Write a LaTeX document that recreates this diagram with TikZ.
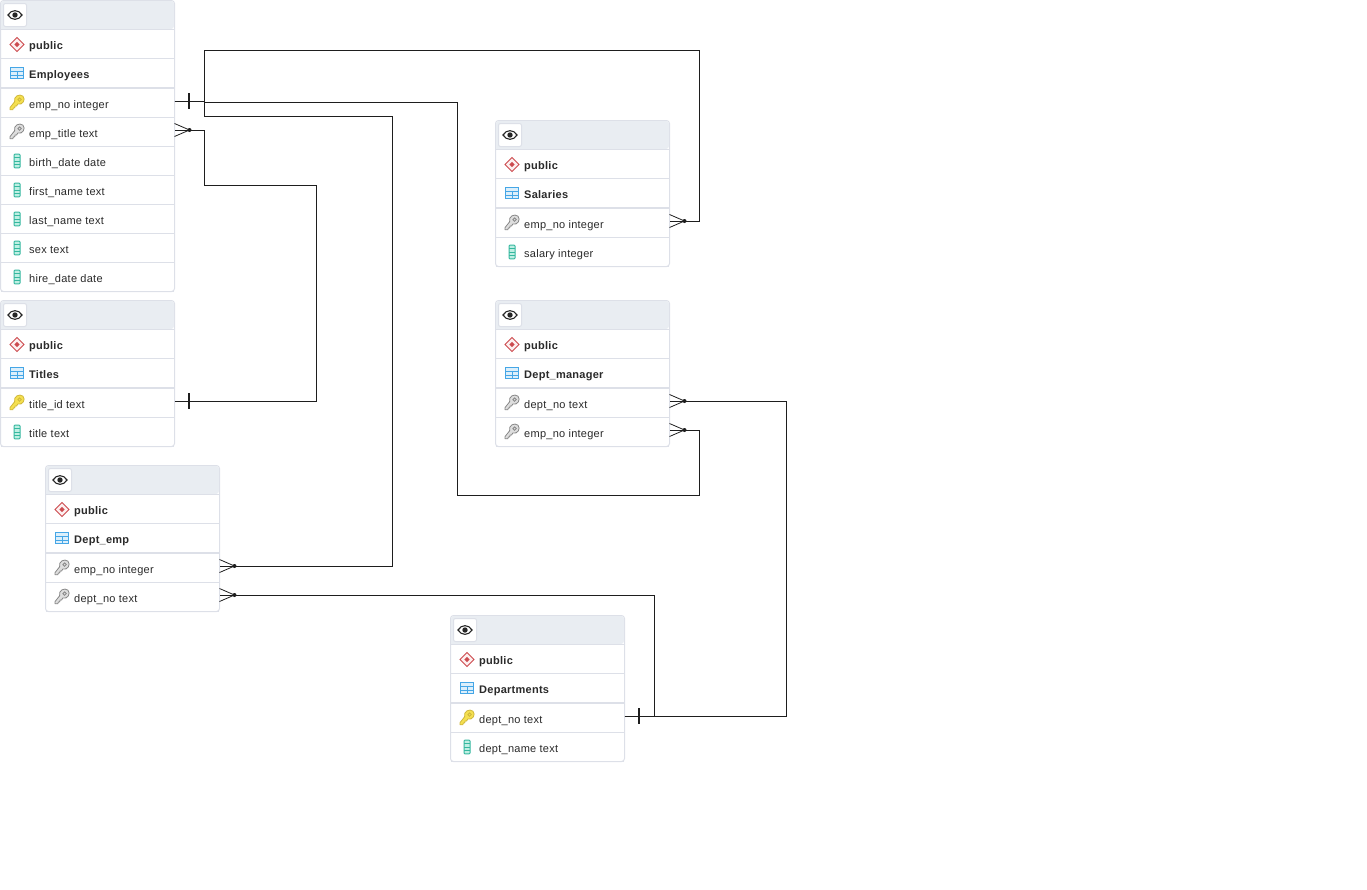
\documentclass[tikz,border=0pt]{standalone}
\usepackage{fontspec}
\setmainfont[LetterSpace=2.4]{Liberation Sans}
\definecolor{framegray}{HTML}{DDE0E8}
\definecolor{headfill}{HTML}{E9EDF2}
\definecolor{inkgray}{HTML}{2A2A2A}
\definecolor{relgray}{HTML}{1E1E1E}
\definecolor{keygold}{HTML}{F5E050}
\definecolor{keygoldline}{HTML}{D0B83C}
\definecolor{keygray}{HTML}{DEDEDE}
\definecolor{keygrayline}{HTML}{888888}
\definecolor{colfill}{HTML}{BFEFE3}
\definecolor{colline}{HTML}{35B89F}
\definecolor{schemafill}{HTML}{FDF0F0}
\definecolor{schemaline}{HTML}{CC4A4E}
\definecolor{tablefill}{HTML}{DCEFFB}
\definecolor{tableline}{HTML}{45A6E6}
\tikzset{
  framebox/.style={draw=framegray, line width=1pt, rounded corners=3pt, inner sep=0pt, outer sep=0pt, minimum width=174pt},
  rowbox/.style={inner sep=0pt, outer sep=0pt, minimum width=174pt, minimum height=29pt, anchor=north west},
  rowtext/.style={inner sep=0pt, anchor=base west, text=inkgray, font=\fontsize{11}{13}\selectfont},
  nametext/.style={rowtext, font=\fontsize{11}{13}\selectfont\bfseries},
  relline/.style={draw=relgray, line width=0.9pt, line join=miter},
  relend/.style={draw=relgray, line width=0.8pt},
  relbar/.style={draw=relgray, line width=1.6pt}
}
% Icons, drawn around the origin of a shifted scope
\newcommand{\keyshape}[2]{%
  \draw[fill=#1, draw=#2, line width=0.8pt, line join=round] (-7,4.6) -- (-2.4,-1.2) .. controls (-3.8,-6.6) and (2.4,-9.8) .. (6,-6.8)
    .. controls (9,-3.4) and (5.6,2.4) .. (0.8,1) -- (-0.4,3) -- (-2,3) -- (-2.2,4.8) -- (-3.6,5) -- (-4.2,6.8) -- (-7,6.8) -- cycle;
  \draw[draw=#2, line width=0.8pt] (2.6,-3.4) circle (1.7);}
\newcommand{\pkicon}{\keyshape{keygold}{keygoldline}}
\newcommand{\fkicon}{\keyshape{keygray}{keygrayline}}
\newcommand{\colicon}{%
  \draw[fill=colfill, draw=colline, line width=1pt, rounded corners=0.8pt] (-3,-6.8) rectangle (3,6.8);
  \foreach \liney in {-3.4,0,3.4} \draw[colline, line width=0.7pt] (-3,\liney) -- (3,\liney);}
\newcommand{\schemaicon}{%
  \draw[fill=schemafill, draw=schemaline, line width=1pt] (-7,0) -- (0,-7) -- (7,0) -- (0,7) -- cycle;
  \fill[schemaline] (-2.6,0) -- (0,-2.6) -- (2.6,0) -- (0,2.6) -- cycle;}
\newcommand{\tableicon}{%
  \draw[fill=tablefill, draw=tableline, line width=1pt] (-6.5,-5.5) rectangle (6.5,5.5);
  \draw[tableline, line width=0.8pt] (-6.5,-1.8) -- (6.5,-1.8) (-6.5,1.9) -- (6.5,1.9) (0,-1.8) -- (0,5.5);}
\newcommand{\eyeicon}{%
  \draw[fill=white, draw=black!85, line width=1.1pt] (-7,0) .. controls (-3.4,-5.8) and (3.4,-5.8) .. (7,0) .. controls (3.4,5.8) and (-3.4,5.8) .. cycle;
  \fill[black!85] (0,0) circle (2.7);}
% Table: name, x, y, number of rows, rows as node/icon/text
\newcommand{\erdtable}[5]{%
  % Frame and header band
  \node[framebox, minimum height=88pt+29pt*#4, anchor=north west, fill=white] (#1) at (#2+0.5,#3+0.5) {};
  \fill[headfill, rounded corners=3pt] (#2+1,#3+29) -- (#2+1,#3+1) -- (#2+174,#3+1) -- (#2+174,#3+29) [sharp corners] -- cycle;
  % Eye button
  \node[draw=framegray, fill=white, line width=1pt, rounded corners=2pt, inner sep=0pt, outer sep=0pt, minimum size=23pt] (#1-eye) at (#2+15,#3+15) {};
  \begin{scope}[shift={(#1-eye.center)}]\eyeicon\end{scope}
  % Schema and table name rows
  \draw[framegray, line width=1pt] (#2+1,#3+29.5) -- (#2+174,#3+29.5);
  \draw[framegray, line width=1pt] (#2+1,#3+58.5) -- (#2+174,#3+58.5);
  \draw[framegray, line width=2pt] (#2+1,#3+88) -- (#2+174,#3+88);
  \begin{scope}[shift={(#2+17,#3+44.5)}]\schemaicon\end{scope}
  \begin{scope}[shift={(#2+17,#3+73)}]\tableicon\end{scope}
  \node[nametext] (#1-schema) at (#2+29,#3+49) {public};
  \node[nametext] (#1-name) at (#2+29,#3+78) {\detokenize{#1}};
  % Column rows
  \foreach \rowname/\rowicon/\rowtext [count=\rowi from 0] in {#5} {
    \node[rowbox] (\rowname) at (#2+0.5,#3+88+29*\rowi) {};
    \begin{scope}[shift={(#2+17,#3+103+29*\rowi)}]\rowicon\end{scope}
    \node[rowtext] (\rowname-text) at (#2+29,#3+108+29*\rowi) {\rowtext};
    \draw[framegray, line width=1pt] (#2+1,#3+117.5+29*\rowi) -- (#2+174,#3+117.5+29*\rowi);
  }
}
% Many end and one end of a relation, at the side of a row
\newcommand{\manyend}[1]{%
  \begin{scope}[shift={([yshift=1.5pt]#1.east)}]
    \draw[relend] (0,-6.5) -- (15,0) -- (0,6.5);
    \fill[relgray] (15,0) circle (2);
  \end{scope}}
\newcommand{\oneend}[1]{%
  \begin{scope}[shift={([yshift=1.5pt]#1.east)}]
    \draw[relbar] (14.5,-8) -- (14.5,8);
  \end{scope}}
\begin{document}
\begin{tikzpicture}[x=1pt,y=-1pt]
\useasboundingbox (0,0) rectangle (1367,889);
% Tables
\erdtable{Employees}{0}{0}{7}{empNo/\pkicon/emp\_no integer, empTitle/\fkicon/emp\_title text, birthDate/\colicon/birth\_date date, firstName/\colicon/first\_name text, lastName/\colicon/last\_name text, sexCol/\colicon/sex text, hireDate/\colicon/hire\_date date}
\erdtable{Titles}{0}{300}{2}{titleId/\pkicon/title\_id text, titleCol/\colicon/title text}
\erdtable{Dept_emp}{45}{465}{2}{deptEmpEmp/\fkicon/emp\_no integer, deptEmpDept/\fkicon/dept\_no text}
\erdtable{Salaries}{495}{120}{2}{salaryEmp/\fkicon/emp\_no integer, salaryCol/\colicon/salary integer}
\erdtable{Dept_manager}{495}{300}{2}{managerDept/\fkicon/dept\_no text, managerEmp/\fkicon/emp\_no integer}
\erdtable{Departments}{450}{615}{2}{deptNo/\pkicon/dept\_no text, deptName/\colicon/dept\_name text}
% Employees to Salaries
\draw[relline] ([yshift=1.5pt]empNo.east) -- (204,101) -- (204,50.5) -- (699,50.5) -- (699,221) -- ([yshift=1.5pt]salaryEmp.east);
% Employees to Dept_emp
\draw[relline] ([yshift=1.5pt]empNo.east) -- (204,101) -- (204,116.5) -- (392,116.5) -- (392,566) -- ([yshift=1.5pt]deptEmpEmp.east);
% Employees to Dept_manager
\draw[relline] ([yshift=1.5pt]empNo.east) -- (204,101) -- (204,102.5) -- (457,102.5) -- (457,495.5) -- (699,495.5) -- (699,430) -- ([yshift=1.5pt]managerEmp.east);
% Titles to Employees
\draw[relline] ([yshift=1.5pt]titleId.east) -- (316,401) -- (316,185.5) -- (204,185.5) -- (204,130) -- ([yshift=1.5pt]empTitle.east);
% Departments to Dept_emp
\draw[relline] ([yshift=1.5pt]deptNo.east) -- (654,716) -- (654,595.5) -- (250,595.5) -- (250,595) -- ([yshift=1.5pt]deptEmpDept.east);
% Departments to Dept_manager
\draw[relline] ([yshift=1.5pt]deptNo.east) -- (786,716) -- (786,401) -- ([yshift=1.5pt]managerDept.east);
% Relation ends
\oneend{empNo}
\oneend{titleId}
\oneend{deptNo}
\manyend{empTitle}
\manyend{salaryEmp}
\manyend{managerDept}
\manyend{managerEmp}
\manyend{deptEmpEmp}
\manyend{deptEmpDept}
\end{tikzpicture}
\end{document}
